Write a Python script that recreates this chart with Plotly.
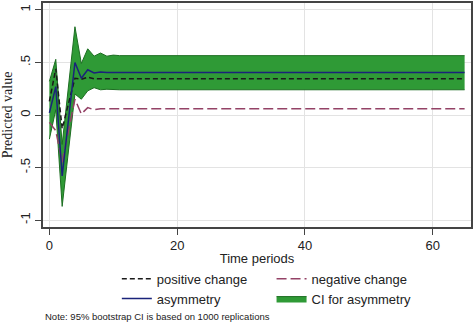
import plotly.graph_objects as go

t = list(range(66))

asymmetry = [0.02, 0.27, -0.58, -0.04, 0.50, 0.35, 0.43, 0.40, 0.41, 0.405, 0.405,
             0.405, 0.405, 0.405, 0.405, 0.405, 0.405, 0.405, 0.405, 0.405, 0.405,
             0.405, 0.405, 0.405, 0.405, 0.405, 0.405, 0.405, 0.405, 0.405, 0.405,
             0.405, 0.405, 0.405, 0.405, 0.405, 0.405, 0.405, 0.405, 0.405, 0.405,
             0.405, 0.405, 0.405, 0.405, 0.405, 0.405, 0.405, 0.405, 0.405, 0.405,
             0.405, 0.405, 0.405, 0.405, 0.405, 0.405, 0.405, 0.405, 0.405, 0.405,
             0.405, 0.405, 0.405, 0.405, 0.405]
positive = [0.13, 0.44, -0.13, 0.10, 0.35, 0.34, 0.36, 0.345, 0.345, 0.345, 0.345,
            0.345, 0.345, 0.345, 0.345, 0.345, 0.345, 0.345, 0.345, 0.345, 0.345,
            0.345, 0.345, 0.345, 0.345, 0.345, 0.345, 0.345, 0.345, 0.345, 0.345,
            0.345, 0.345, 0.345, 0.345, 0.345, 0.345, 0.345, 0.345, 0.345, 0.345,
            0.345, 0.345, 0.345, 0.345, 0.345, 0.345, 0.345, 0.345, 0.345, 0.345,
            0.345, 0.345, 0.345, 0.345, 0.345, 0.345, 0.345, 0.345, 0.345, 0.345,
            0.345, 0.345, 0.345, 0.345, 0.345]
negative = [-0.07, -0.15, -0.45, -0.14, 0.15, 0.01, 0.07, 0.05, 0.06, 0.06, 0.06,
            0.06, 0.06, 0.06, 0.06, 0.06, 0.06, 0.06, 0.06, 0.06, 0.06,
            0.06, 0.06, 0.06, 0.06, 0.06, 0.06, 0.06, 0.06, 0.06, 0.06,
            0.06, 0.06, 0.06, 0.06, 0.06, 0.06, 0.06, 0.06, 0.06, 0.06,
            0.06, 0.06, 0.06, 0.06, 0.06, 0.06, 0.06, 0.06, 0.06, 0.06,
            0.06, 0.06, 0.06, 0.06, 0.06, 0.06, 0.06, 0.06, 0.06, 0.06,
            0.06, 0.06, 0.06, 0.06, 0.06]
ci_upper = [0.32, 0.53, -0.28, 0.30, 0.84, 0.49, 0.63, 0.56, 0.59, 0.56, 0.57,
            0.565, 0.565, 0.565, 0.565, 0.565, 0.565, 0.565, 0.565, 0.565, 0.565,
            0.565, 0.565, 0.565, 0.565, 0.565, 0.565, 0.565, 0.565, 0.565, 0.565,
            0.565, 0.565, 0.565, 0.565, 0.565, 0.565, 0.565, 0.565, 0.565, 0.565,
            0.565, 0.565, 0.565, 0.565, 0.565, 0.565, 0.565, 0.565, 0.565, 0.565,
            0.565, 0.565, 0.565, 0.565, 0.565, 0.565, 0.565, 0.565, 0.565, 0.565,
            0.565, 0.565, 0.565, 0.565, 0.565]
ci_lower = [-0.23, 0.05, -0.87, -0.35, 0.20, 0.15, 0.23, 0.26, 0.24, 0.245, 0.24,
            0.24, 0.24, 0.24, 0.24, 0.24, 0.24, 0.24, 0.24, 0.24, 0.24,
            0.24, 0.24, 0.24, 0.24, 0.24, 0.24, 0.24, 0.24, 0.24, 0.24,
            0.24, 0.24, 0.24, 0.24, 0.24, 0.24, 0.24, 0.24, 0.24, 0.24,
            0.24, 0.24, 0.24, 0.24, 0.24, 0.24, 0.24, 0.24, 0.24, 0.24,
            0.24, 0.24, 0.24, 0.24, 0.24, 0.24, 0.24, 0.24, 0.24, 0.24,
            0.24, 0.24, 0.24, 0.24, 0.24]

x_ticks = [0, 20, 40, 60]
y_ticks = [-1, -0.5, 0, 0.5, 1]
y_ticklabels = ["-1", "-.5", "0", ".5", "1"]

GREEN_FILL = "#2f9a36"
GREEN_LINE = "#1d6e22"

fig = go.Figure()

fig.add_trace(go.Scatter(x=t, y=ci_lower, mode="lines",
                         line=dict(color=GREEN_LINE, width=1),
                         showlegend=False, hoverinfo="skip"))
fig.add_trace(go.Scatter(x=t, y=ci_upper, mode="lines", fill="tonexty",
                         fillcolor=GREEN_FILL,
                         line=dict(color=GREEN_LINE, width=1),
                         name="CI for asymmetry", legend="legend2", legendrank=2))
fig.add_trace(go.Scatter(x=t, y=positive, mode="lines",
                         line=dict(color="#1a1a1a", width=1.5, dash="5px,3px"),
                         name="positive change", legend="legend", legendrank=1))
fig.add_trace(go.Scatter(x=t, y=negative, mode="lines",
                         line=dict(color="#944266", width=1.5, dash="10px,4px"),
                         name="negative change", legend="legend2", legendrank=1))
fig.add_trace(go.Scatter(x=t, y=asymmetry, mode="lines",
                         line=dict(color="#1a237a", width=1.5),
                         name="asymmetry", legend="legend", legendrank=2))

legend_common = dict(orientation="v", xanchor="left", y=-0.164, yanchor="top",
                     font=dict(size=13), tracegroupgap=0, traceorder="normal",
                     bgcolor="rgba(0,0,0,0)")

fig.update_layout(
    width=474, height=323,
    margin=dict(l=43, r=2, t=1, b=96),
    paper_bgcolor="white", plot_bgcolor="white",
    font=dict(family="Liberation Sans, Arial, sans-serif", size=13, color="#222"),
    legend=dict(x=0.1725, **legend_common),
    legend2=dict(x=0.534, **legend_common),
    annotations=[dict(text="Note: 95% bootstrap CI is based on 1000 replications",
                      xref="paper", yref="paper", x=0.0, y=-0.398,
                      xanchor="left", yanchor="middle", showarrow=False,
                      font=dict(size=9.5, color="#222"))],
)

fig.update_xaxes(range=[-1.0, 66.0], tickvals=x_ticks, ticks="outside", ticklen=6,
                 tickcolor="#444", showgrid=True, gridcolor="#e3e3e3", gridwidth=1,
                 showline=True, linecolor="#444", linewidth=1.5, mirror=True,
                 zeroline=False,
                 title=dict(text="Time periods", standoff=2, font=dict(size=13)),
                 tickfont=dict(size=13))
fig.update_yaxes(range=[-1.066, 1.066], tickvals=y_ticks, ticktext=y_ticklabels,
                 ticks="outside", ticklen=6, tickcolor="#444", tickangle=-90,
                 showgrid=True, gridcolor="#e3e3e3", gridwidth=1,
                 showline=True, linecolor="#444", linewidth=1.5, mirror=True,
                 zeroline=False,
                 title=dict(text="Predicted value", standoff=6,
                            font=dict(family="Liberation Serif, Times New Roman, serif", size=14)),
                 tickfont=dict(size=13))

fig.write_html("out.html")
